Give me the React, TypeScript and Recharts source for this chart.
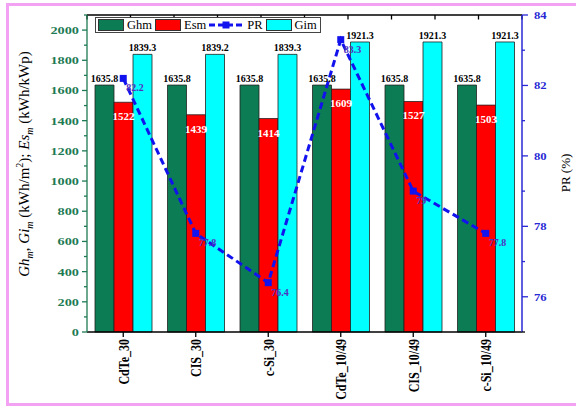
import React from 'react';
import {
  ComposedChart, Bar, Line, XAxis, YAxis, ReferenceLine, LabelList, Label,
} from 'recharts';

const categories = ['CdTe_30', 'CIS_30', 'c-Si_30', 'CdTe_10/49', 'CIS_10/49', 'c-Si_10/49'];
const ghm = [1635.8, 1635.8, 1635.8, 1635.8, 1635.8, 1635.8];
const esm = [1522, 1439, 1414, 1609, 1527, 1503];
const gim = [1839.3, 1839.2, 1839.3, 1921.3, 1921.3, 1921.3];
const pr = [82.2, 77.8, 76.4, 83.3, 79, 77.8];

const leftTicks = [0, 100, 200, 300, 400, 500, 600, 700, 800, 900, 1000, 1100, 1200, 1300, 1400, 1500, 1600, 1700, 1800, 1900, 2000, 2100];
const rightTicks = [75, 76, 77, 78, 79, 80, 81, 82, 83, 84];
// top frame ticks: group boundaries and centres on a 0..6 scale
const frameTicks = [0, 0.5, 1, 1.5, 2, 2.5, 3, 3.5, 4, 4.5, 5, 5.5, 6];

const data = categories.map((name, i) => ({ name, ghm: ghm[i], esm: esm[i], gim: gim[i], pr: pr[i] }));

const SERIF = '"Liberation Serif", "Times New Roman", serif';
const GREEN = '#0c7c54';
const AXIS_GREEN = '#1d7a53';
const RED = '#ff0000';
const CYAN = '#00ffff';
const BLUE = '#1212ee';
const AXIS_BLUE = '#2828d4';
const PR_LABEL = '#5030c0';

const legendItems = [
  { name: 'Ghm', color: GREEN, kind: 'bar' },
  { name: 'Esm', color: RED, kind: 'bar' },
  { name: 'PR', color: BLUE, kind: 'line' },
  { name: 'Gim', color: CYAN, kind: 'bar' },
];

const LeftTick = (props: any) => {
  const { x, y, payload } = props;
  const v = payload.value as number;
  const major = v % 200 === 0 && v <= 2000;
  return (
    <g>
      <line x1={x - (major ? 5 : 3)} x2={x} y1={y} y2={y} stroke={AXIS_GREEN} strokeWidth={1.3} />
      {major && (
        <text transform={`translate(${x - 8},${y}) scale(1.3,1)`} textAnchor="end" dy="0.36em"
          fontFamily={SERIF} fontWeight="bold" fontSize={11} fill={AXIS_GREEN}>{v}</text>
      )}
    </g>
  );
};

const RightTick = (props: any) => {
  const { x, y, payload } = props;
  const v = payload.value as number;
  const major = v % 2 === 0;
  return (
    <g>
      <line x1={x} x2={x + (major ? 6 : 3)} y1={y} y2={y} stroke={v === 75 ? '#000' : AXIS_BLUE} strokeWidth={1.3} />
      {major && (
        <text transform={`translate(${x + 12},${y}) scale(1.15,1)`} textAnchor="start" dy="0.36em"
          fontFamily={SERIF} fontWeight="bold" fontSize={11} fill={AXIS_BLUE}>{v}</text>
      )}
    </g>
  );
};

const BottomTick = (props: any) => {
  const { x, y, payload } = props;
  return (
    <g>
      <line x1={x} x2={x} y1={y} y2={y + 5} stroke="#000" strokeWidth={1.3} />
      <text transform={`translate(${x},${y + 7}) rotate(-90) scale(1,1.3)`} textAnchor="end" dy="0.36em"
        fontFamily={SERIF} fontWeight="bold" fontSize={12} fill="#000">{payload.value}</text>
    </g>
  );
};

const TopValue = (props: any) => {
  const { x, y, width, value } = props;
  return (
    <text x={x + width / 2} y={y - 3} textAnchor="middle" fontFamily={SERIF} fontWeight="bold"
      fontSize={10} fill="#000">{value}</text>
  );
};

const InnerValue = (props: any) => {
  const { x, y, width, value } = props;
  return (
    <text x={x + width / 2} y={y + 18} textAnchor="middle" fontFamily={SERIF} fontWeight="bold"
      fontSize={11} fill="#fff">{value}</text>
  );
};

const PrValue = (props: any) => {
  const { x, y, value } = props;
  return (
    <text x={x + 3} y={y + 13} textAnchor="start" fontFamily={SERIF} fontWeight="bold"
      fontSize={10} fill={PR_LABEL}>{value}</text>
  );
};

const SquareDot = (props: any) => {
  const { cx, cy, index } = props;
  return <rect key={index} x={cx - 3.5} y={cy - 3.5} width={7} height={7} fill={BLUE} />;
};

const LeftTitle = () => (
  <text transform="translate(29,164) rotate(-90)" textAnchor="middle" fontFamily={SERIF} fontSize={15} fill="#000">
    <tspan fontStyle="italic">Gh</tspan>
    <tspan fontStyle="italic" fontSize={10} dy={4}>m</tspan>
    <tspan dy={-4}>, </tspan>
    <tspan fontStyle="italic">Gi</tspan>
    <tspan fontStyle="italic" fontSize={10} dy={4}>m</tspan>
    <tspan dy={-4}> (kWh/m</tspan>
    <tspan fontSize={10} dy={-6}>2</tspan>
    <tspan dy={6}>); </tspan>
    <tspan fontStyle="italic">Es</tspan>
    <tspan fontStyle="italic" fontSize={10} dy={4}>m</tspan>
    <tspan dy={-4}> (kWh/kWp)</tspan>
  </text>
);

const RightTitle = () => (
  <text transform="translate(570,173) rotate(-90)" textAnchor="middle" fontFamily={SERIF} fontSize={13} fill="#000">
    PR (%)
  </text>
);

function ChartLegend() {
  return (
    <div style={{
      position: 'absolute', left: 95, top: 17, height: 14, border: '1px solid #444', background: '#fff',
      display: 'flex', alignItems: 'center', fontFamily: SERIF, fontSize: 12.5, lineHeight: '14px', paddingLeft: 2,
    }}>
      {legendItems.map(it => (
        <div key={it.name} style={{ display: 'flex', alignItems: 'center', marginRight: 3 }}>
          {it.kind === 'bar' ? (
            <span style={{ width: 24, height: 10, background: it.color, border: '1px solid #333', marginRight: 3 }} />
          ) : (
            <svg width={34} height={10} style={{ marginRight: 4 }}>
              <line x1={0} x2={34} y1={5} y2={5} stroke={it.color} strokeWidth={3} strokeDasharray="6 3" />
              <rect x={13.5} y={1.5} width={7} height={7} fill={it.color} />
            </svg>
          )}
          <span>{it.name}</span>
        </div>
      ))}
    </div>
  );
}

export default function App() {
  return (
    <div style={{ position: 'absolute', left: 0, top: 0, width: 576, height: 406, overflow: 'hidden', background: '#fff' }}>
      <div style={{
        position: 'absolute', left: 6, top: 3, width: 600, height: 403, boxSizing: 'border-box',
        border: '3px solid #f3a2f3',
      }} />
      <div style={{ position: 'absolute', left: 0, top: 0 }}>
        <ComposedChart width={576} height={406} data={data} barSize={19} barGap={0}
          margin={{ top: 15, right: 0, bottom: 14, left: 7 }}>
          <XAxis dataKey="name" interval={0} tickLine={false} tickSize={0} tickMargin={0} height={60}
            axisLine={{ stroke: '#000', strokeWidth: 1.3 }} tick={<BottomTick />} />
          <XAxis xAxisId="frame" type="number" domain={[0, 6]} hide />
          <YAxis yAxisId="left" domain={[0, 2100]} ticks={leftTicks} interval={0} width={80}
            tickLine={false} tickSize={0} tickMargin={0} axisLine={{ stroke: AXIS_GREEN, strokeWidth: 1.3 }}
            tick={<LeftTick />}>
            <Label content={<LeftTitle />} />
          </YAxis>
          <YAxis yAxisId="right" orientation="right" domain={[75, 84]} ticks={rightTicks} interval={0} width={54}
            tickLine={false} tickSize={0} tickMargin={0} axisLine={{ stroke: AXIS_BLUE, strokeWidth: 1.5 }}
            tick={<RightTick />}>
            <Label content={<RightTitle />} />
          </YAxis>

          <ReferenceLine yAxisId="left" y={2100} stroke="#000" strokeWidth={1.3} />
          {frameTicks.map(t => (
            <ReferenceLine key={t} xAxisId="frame" yAxisId="left" stroke="#000" strokeWidth={1.3}
              segment={[{ x: t, y: 2100 }, { x: t, y: 2070 }]} />
          ))}

          <Bar yAxisId="left" dataKey="ghm" name="Ghm" fill={GREEN} stroke="#222" strokeWidth={0.8} isAnimationActive={false}>
            <LabelList dataKey="ghm" content={<TopValue />} />
          </Bar>
          <Bar yAxisId="left" dataKey="esm" name="Esm" fill={RED} stroke="#222" strokeWidth={0.8} isAnimationActive={false}>
            <LabelList dataKey="esm" content={<InnerValue />} />
          </Bar>
          <Bar yAxisId="left" dataKey="gim" name="Gim" fill={CYAN} stroke="#222" strokeWidth={0.8} isAnimationActive={false}>
            <LabelList dataKey="gim" content={<TopValue />} />
          </Bar>
          <Line yAxisId="right" type="linear" dataKey="pr" name="PR" stroke={BLUE} strokeWidth={3}
            strokeDasharray="7 4" dot={<SquareDot />} activeDot={false} isAnimationActive={false}>
            <LabelList dataKey="pr" content={<PrValue />} />
          </Line>
        </ComposedChart>
      </div>
      <ChartLegend />
    </div>
  );
}
